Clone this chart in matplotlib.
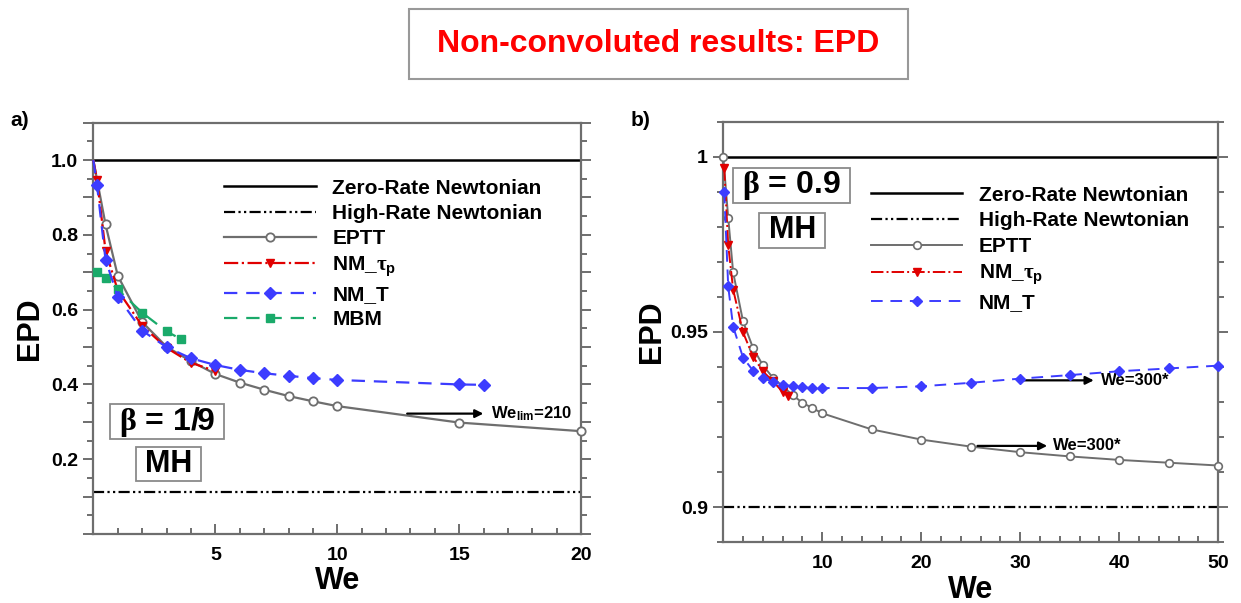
import matplotlib
matplotlib.use("Agg")
import matplotlib.pyplot as plt
from matplotlib.patches import Rectangle
from matplotlib.ticker import MultipleLocator, FuncFormatter

plt.rcParams['font.family'] = ['Liberation Sans', 'DejaVu Sans']
plt.rcParams['font.weight'] = 'bold'
plt.rcParams['mathtext.fontset'] = 'custom'
plt.rcParams['mathtext.rm'] = 'Liberation Serif'
plt.rcParams['mathtext.it'] = 'Liberation Serif:italic'
plt.rcParams['mathtext.sf'] = 'Liberation Sans:bold'
plt.rcParams['mathtext.bf'] = 'Liberation Sans:bold'

# ---- data: panel a) beta = 1/9 ----
a_eptt_we = [0, 0.5, 1, 2, 3, 4, 5, 6, 7, 8, 9, 10, 15, 20]
a_eptt = [1.0, 0.828, 0.691, 0.567, 0.501, 0.462, 0.428, 0.405, 0.386, 0.369, 0.355, 0.342, 0.298, 0.275]
a_nmtau_we = [0, 0.15, 0.5, 1, 2, 3, 4, 5]
a_nmtau = [1.0, 0.948, 0.758, 0.652, 0.557, 0.498, 0.458, 0.436]
a_nmt_we = [0, 0.15, 0.5, 1, 2, 3, 4, 5, 6, 7, 8, 9, 10, 15, 16]
a_nmt = [1.0, 0.934, 0.734, 0.635, 0.544, 0.500, 0.470, 0.452, 0.439, 0.430, 0.423, 0.417, 0.412, 0.400, 0.399]
a_mbm_we = [0.15, 0.5, 1, 2, 3, 3.6]
a_mbm = [0.702, 0.686, 0.654, 0.592, 0.542, 0.521]
a_high = 1.0 / 9

# ---- data: panel b) beta = 0.9 ----
b_eptt_we = [0, 0.5, 1, 2, 3, 4, 5, 6, 7, 8, 9, 10, 15, 20, 25, 30, 35, 40, 45, 50]
b_eptt = [1.0, 0.9826, 0.967, 0.953, 0.9455, 0.9405, 0.937, 0.9345, 0.932, 0.9298, 0.9283,
          0.9268, 0.9222, 0.9193, 0.9173, 0.9157, 0.9145, 0.9135, 0.9127, 0.9119]
b_nmtau_we = [0.1, 0.5, 1, 2, 3, 4, 5, 6, 6.5]
b_nmtau = [0.9967, 0.9748, 0.9621, 0.9499, 0.943, 0.9388, 0.936, 0.9329, 0.9318]
b_nmt_we = [0.1, 0.5, 1, 2, 3, 4, 5, 6, 7, 8, 9, 10, 15, 20, 25, 30, 35, 40, 45, 50]
b_nmt = [0.990, 0.963, 0.9515, 0.9427, 0.939, 0.937, 0.9357, 0.935, 0.9345, 0.9342, 0.934,
         0.934, 0.934, 0.9345, 0.9355, 0.9367, 0.9377, 0.9388, 0.9396, 0.9404]
b_high = 0.9

GRAY = '#6e6e6e'
RED = '#e00000'
BLUE = '#3c3cff'
GREEN = '#1aaa6a'
hr_dash = (0, (5, 1.5, 1, 1.5, 1, 1.5))

fig = plt.figure(figsize=(12.41, 6.03), dpi=100)
ax1 = fig.add_axes([0.0752, 0.1144, 0.3932, 0.6821])
ax2 = fig.add_axes([0.5828, 0.1007, 0.3989, 0.6975])


def style_axes(ax):
    for s in ax.spines.values():
        s.set_color(GRAY)
        s.set_linewidth(1.6)
    ax.tick_params(axis='y', which='both', direction='out', left=True, right=True,
                   color=GRAY, width=1.4, labelsize=14, pad=4)
    ax.tick_params(axis='y', which='major', length=7)
    ax.tick_params(axis='y', which='minor', length=4)
    ax.tick_params(axis='x', which='both', direction='in', bottom=True, top=False,
                   color=GRAY, width=1.4, labelsize=14, pad=9)
    ax.tick_params(axis='x', which='major', length=7)
    ax.tick_params(axis='x', which='minor', length=4)
    for lab in ax.get_xticklabels() + ax.get_yticklabels():
        lab.set_fontweight('bold')


def plot_common(ax, high):
    ax.axhline(1.0, color='black', lw=1.8, label='Zero-Rate Newtonian', zorder=2)
    ax.axhline(high, color='black', lw=1.6, linestyle=hr_dash, label='High-Rate Newtonian', zorder=2)


def boxed(ax, x0, y0, x1, y1, s, size):
    ax.add_patch(Rectangle((x0, y0), x1 - x0, y1 - y0, transform=ax.transAxes,
                           fc='white', ec='#8a8a8a', lw=1.3, zorder=6))
    ax.text((x0 + x1) / 2, (y0 + y1) / 2, s, transform=ax.transAxes, ha='center',
            va='center', fontsize=size, fontweight='bold', zorder=7)


# ---- panel a ----
plot_common(ax1, a_high)
ax1.plot(a_eptt_we, a_eptt, color=GRAY, lw=1.6, marker='o', ms=6, mfc='white', mec=GRAY,
         mew=1.3, label='EPTT', clip_on=False, zorder=3, markevery=slice(1, None))
ax1.plot(a_nmtau_we, a_nmtau, color=RED, lw=1.6, linestyle='-.', marker='v', ms=6,
         label=r'NM_$\mathrm{\tau}_{\mathsf{p}}$', clip_on=False, zorder=4, markevery=slice(1, None))
ax1.plot(a_nmt_we, a_nmt, color=BLUE, lw=1.6, linestyle=(0, (6, 4)), marker='D', ms=6,
         label='NM_T', clip_on=False, zorder=5, markevery=slice(1, None))
ax1.plot(a_mbm_we, a_mbm, color=GREEN, lw=1.6, linestyle=(0, (6, 4)), marker='s', ms=6,
         label='MBM', clip_on=False, zorder=4)
ax1.set_xlim(0, 20)
ax1.set_ylim(0, 1.1)
ax1.xaxis.set_major_locator(MultipleLocator(5))
ax1.xaxis.set_minor_locator(MultipleLocator(1))
ax1.yaxis.set_major_locator(MultipleLocator(0.1))
ax1.yaxis.set_minor_locator(MultipleLocator(0.05))
ax1.xaxis.set_major_formatter(FuncFormatter(lambda v, p: '' if abs(v) < 1e-9 else '%d' % v))
ax1.yaxis.set_major_formatter(FuncFormatter(
    lambda v, p: '%.1f' % v if (round(v * 10) % 2 == 0 and 0.15 < v < 1.05) else ''))
style_axes(ax1)
ax1.set_xlabel('We', fontsize=22, fontweight='bold', labelpad=2)
ax1.set_ylabel('EPD', fontsize=22, fontweight='bold', labelpad=4)
ax1.annotate('', xy=(16.1, 0.322), xytext=(12.75, 0.322),
             arrowprops=dict(arrowstyle='-|>', color='black', lw=1.6, mutation_scale=12))
ax1.text(16.3, 0.322, r'We$_{\mathsf{lim}}$=210', fontsize=12, fontweight='bold', va='center')
boxed(ax1, 0.034, 0.231, 0.268, 0.316, r'$\mathrm{\beta}$ = 1/9', 23)
boxed(ax1, 0.0875, 0.129, 0.221, 0.2115, 'MH', 22)
ax1.legend(loc='upper left', bbox_to_anchor=(0.268, 0.864), frameon=False,
           handlelength=4.4, handletextpad=0.8, labelspacing=0.3, borderpad=0, borderaxespad=0,
           prop={'weight': 'bold', 'size': 15})

# ---- panel b ----
plot_common(ax2, b_high)
ax2.plot(b_eptt_we, b_eptt, color=GRAY, lw=1.4, marker='o', ms=5.5, mfc='white', mec=GRAY,
         mew=1.2, label='EPTT', clip_on=False, zorder=3)
ax2.plot(b_nmtau_we, b_nmtau, color=RED, lw=1.4, linestyle='-.', marker='v', ms=6,
         label=r'NM_$\mathrm{\tau}_{\mathsf{p}}$', clip_on=False, zorder=4)
ax2.plot(b_nmt_we, b_nmt, color=BLUE, lw=1.4, linestyle=(0, (6, 4)), marker='D', ms=5.5,
         label='NM_T', clip_on=False, zorder=5)
ax2.set_xlim(0, 50)
ax2.set_ylim(0.89, 1.01)
ax2.xaxis.set_major_locator(MultipleLocator(10))
ax2.xaxis.set_minor_locator(MultipleLocator(2))
ax2.yaxis.set_major_locator(MultipleLocator(0.05))
ax2.yaxis.set_minor_locator(MultipleLocator(0.01))
ax2.xaxis.set_major_formatter(FuncFormatter(lambda v, p: '' if abs(v) < 1e-9 else '%d' % v))
ax2.yaxis.set_major_formatter(FuncFormatter(lambda v, p: '%g' % round(v, 2)))
style_axes(ax2)
ax2.set_xlabel('We', fontsize=22, fontweight='bold', labelpad=2)
ax2.set_ylabel('EPD', fontsize=22, fontweight='bold', labelpad=2)
ax2.annotate('', xy=(37.7, 0.9362), xytext=(30, 0.9362),
             arrowprops=dict(arrowstyle='-|>', color='black', lw=1.6, mutation_scale=12))
ax2.text(38.2, 0.9362, 'We=300*', fontsize=12, fontweight='bold', va='center')
ax2.annotate('', xy=(33.0, 0.9175), xytext=(25.4, 0.9175),
             arrowprops=dict(arrowstyle='-|>', color='black', lw=1.6, mutation_scale=12))
ax2.text(33.3, 0.9175, 'We=300*', fontsize=12, fontweight='bold', va='center')
boxed(ax2, 0.0196, 0.8074, 0.257, 0.8909, r'$\mathrm{\beta}$ = 0.9', 23)
boxed(ax2, 0.0731, 0.7004, 0.2061, 0.7836, 'MH', 22)
ax2.legend(loc='upper left', bbox_to_anchor=(0.298, 0.848), frameon=False,
           handlelength=4.4, handletextpad=0.8, labelspacing=0.32, borderpad=0, borderaxespad=0,
           prop={'weight': 'bold', 'size': 15})

# ---- panel letters and title ----
fig.text(20 / 1241, 1 - 120 / 603, 'a)', fontsize=15, fontweight='bold', ha='center', va='center')
fig.text(641 / 1241, 1 - 120 / 603, 'b)', fontsize=15, fontweight='bold', ha='center', va='center')
fig.patches.append(Rectangle((409 / 1241, 1 - 79.3 / 603), 498.5 / 1241, 70 / 603,
                             transform=fig.transFigure, fc='white', ec='#999999', lw=1.5))
fig.text(658 / 1241, 1 - 44.3 / 603, 'Non-convoluted results: EPD', color='#ff0000',
         fontsize=23, fontweight='bold', ha='center', va='center')

fig.savefig('out.png', dpi=100)
